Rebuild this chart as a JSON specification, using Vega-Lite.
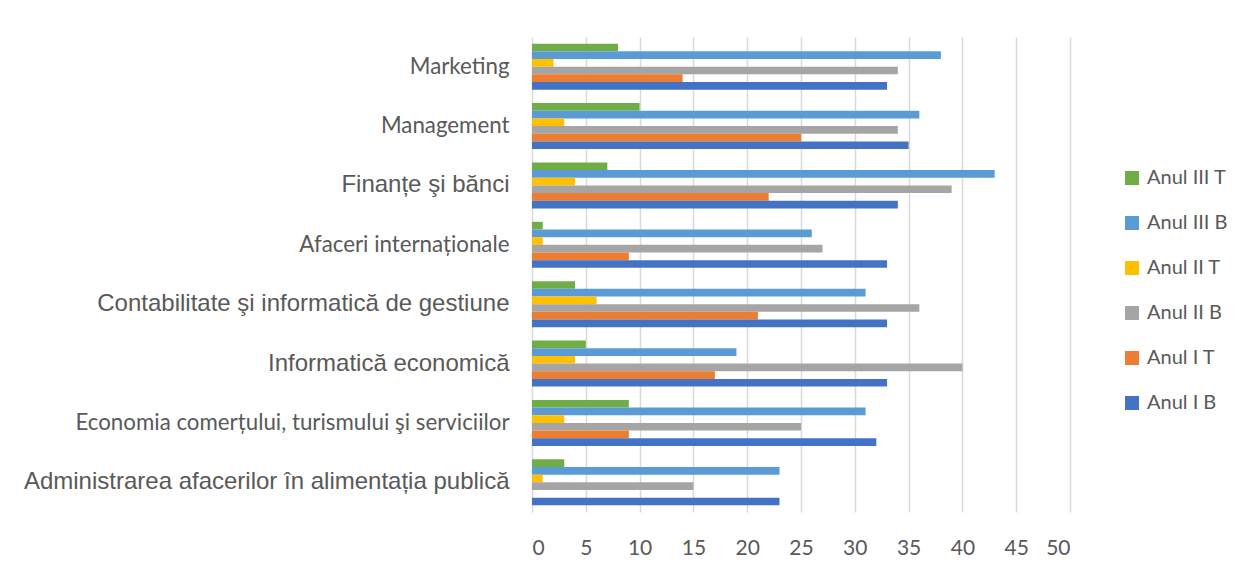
{
  "$schema": "https://vega.github.io/schema/vega-lite/v6.json",
  "width": 538,
  "height": 475,
  "autosize": "none",
  "padding": {"left": 532, "top": 37, "right": 174, "bottom": 55},
  "background": "white",
  "data": {"values": [
    {"program": "Marketing", "series": "Anul III T", "value": 8},
    {"program": "Marketing", "series": "Anul III B", "value": 38},
    {"program": "Marketing", "series": "Anul II T", "value": 2},
    {"program": "Marketing", "series": "Anul II B", "value": 34},
    {"program": "Marketing", "series": "Anul I T", "value": 14},
    {"program": "Marketing", "series": "Anul I B", "value": 33},
    {"program": "Management", "series": "Anul III T", "value": 10},
    {"program": "Management", "series": "Anul III B", "value": 36},
    {"program": "Management", "series": "Anul II T", "value": 3},
    {"program": "Management", "series": "Anul II B", "value": 34},
    {"program": "Management", "series": "Anul I T", "value": 25},
    {"program": "Management", "series": "Anul I B", "value": 35},
    {"program": "Finanțe şi bănci", "series": "Anul III T", "value": 7},
    {"program": "Finanțe şi bănci", "series": "Anul III B", "value": 43},
    {"program": "Finanțe şi bănci", "series": "Anul II T", "value": 4},
    {"program": "Finanțe şi bănci", "series": "Anul II B", "value": 39},
    {"program": "Finanțe şi bănci", "series": "Anul I T", "value": 22},
    {"program": "Finanțe şi bănci", "series": "Anul I B", "value": 34},
    {"program": "Afaceri internaționale", "series": "Anul III T", "value": 1},
    {"program": "Afaceri internaționale", "series": "Anul III B", "value": 26},
    {"program": "Afaceri internaționale", "series": "Anul II T", "value": 1},
    {"program": "Afaceri internaționale", "series": "Anul II B", "value": 27},
    {"program": "Afaceri internaționale", "series": "Anul I T", "value": 9},
    {"program": "Afaceri internaționale", "series": "Anul I B", "value": 33},
    {"program": "Contabilitate şi informatică de gestiune", "series": "Anul III T", "value": 4},
    {"program": "Contabilitate şi informatică de gestiune", "series": "Anul III B", "value": 31},
    {"program": "Contabilitate şi informatică de gestiune", "series": "Anul II T", "value": 6},
    {"program": "Contabilitate şi informatică de gestiune", "series": "Anul II B", "value": 36},
    {"program": "Contabilitate şi informatică de gestiune", "series": "Anul I T", "value": 21},
    {"program": "Contabilitate şi informatică de gestiune", "series": "Anul I B", "value": 33},
    {"program": "Informatică economică", "series": "Anul III T", "value": 5},
    {"program": "Informatică economică", "series": "Anul III B", "value": 19},
    {"program": "Informatică economică", "series": "Anul II T", "value": 4},
    {"program": "Informatică economică", "series": "Anul II B", "value": 40},
    {"program": "Informatică economică", "series": "Anul I T", "value": 17},
    {"program": "Informatică economică", "series": "Anul I B", "value": 33},
    {"program": "Economia comerțului, turismului şi serviciilor", "series": "Anul III T", "value": 9},
    {"program": "Economia comerțului, turismului şi serviciilor", "series": "Anul III B", "value": 31},
    {"program": "Economia comerțului, turismului şi serviciilor", "series": "Anul II T", "value": 3},
    {"program": "Economia comerțului, turismului şi serviciilor", "series": "Anul II B", "value": 25},
    {"program": "Economia comerțului, turismului şi serviciilor", "series": "Anul I T", "value": 9},
    {"program": "Economia comerțului, turismului şi serviciilor", "series": "Anul I B", "value": 32},
    {"program": "Administrarea afacerilor în alimentația publică", "series": "Anul III T", "value": 3},
    {"program": "Administrarea afacerilor în alimentația publică", "series": "Anul III B", "value": 23},
    {"program": "Administrarea afacerilor în alimentația publică", "series": "Anul II T", "value": 1},
    {"program": "Administrarea afacerilor în alimentația publică", "series": "Anul II B", "value": 15},
    {"program": "Administrarea afacerilor în alimentația publică", "series": "Anul I T", "value": 0},
    {"program": "Administrarea afacerilor în alimentația publică", "series": "Anul I B", "value": 23}
  ]},
  "mark": {"type": "bar", "cornerRadius": 0},
  "encoding": {
    "y": {
      "field": "program",
      "type": "nominal",
      "sort": ["Marketing", "Management", "Finanțe şi bănci", "Afaceri internaționale", "Contabilitate şi informatică de gestiune", "Informatică economică", "Economia comerțului, turismului şi serviciilor", "Administrarea afacerilor în alimentația publică"],
      "scale": {"paddingInner": 0.225, "paddingOuter": 0.1125},
      "axis": {
        "title": null,
        "domain": false,
        "ticks": false,
        "labelPadding": 23,
        "labelColor": "#595959",
        "labelLimit": 600,
        "labelFont": {"expr": "indexof(['Finanțe şi bănci','Contabilitate şi informatică de gestiune','Informatică economică','Administrarea afacerilor în alimentația publică'], datum.value) >= 0 ? 'Liberation Sans' : 'Lato'"},
        "labelFontSize": {"expr": "indexof(['Finanțe şi bănci','Contabilitate şi informatică de gestiune','Informatică economică','Administrarea afacerilor în alimentația publică'], datum.value) >= 0 ? 24 : 22.3"}
      }
    },
    "x": {
      "field": "value",
      "type": "quantitative",
      "scale": {"domain": [0, 50], "nice": false},
      "axis": {
        "title": null,
        "values": [0, 5, 10, 15, 20, 25, 30, 35, 40, 45, 50],
        "domain": false,
        "ticks": false,
        "grid": true,
        "gridColor": "#D9D9D9",
        "gridWidth": 1.5,
        "labelPadding": 25,
        "labelFont": "Lato",
        "labelFontSize": 21,
        "labelColor": "#595959"
      }
    },
    "yOffset": {
      "field": "series",
      "type": "nominal",
      "sort": ["Anul III T", "Anul III B", "Anul II T", "Anul II B", "Anul I T", "Anul I B"],
      "scale": {"paddingInner": 0.0}
    },
    "color": {
      "field": "series",
      "type": "nominal",
      "scale": {
        "domain": ["Anul III T", "Anul III B", "Anul II T", "Anul II B", "Anul I T", "Anul I B"],
        "range": ["#70AD47", "#5B9BD5", "#FFC000", "#A5A5A5", "#ED7D31", "#4472C4"]
      },
      "legend": {
        "title": null,
        "orient": "none",
        "legendX": 590,
        "legendY": 131,
        "symbolType": "square",
        "symbolSize": 196,
        "symbolStrokeWidth": 0,
        "labelFont": "Lato",
        "labelFontSize": 20,
        "labelColor": "#595959",
        "rowPadding": 25,
        "labelOffset": 5
      }
    }
  },
  "config": {
    "view": {"stroke": null}
  }
}
